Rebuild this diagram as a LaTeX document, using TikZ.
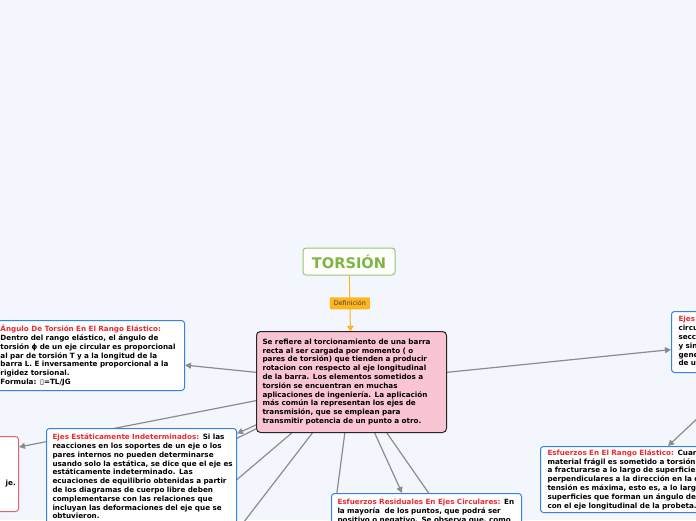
\documentclass[tikz,border=0pt]{standalone}
\usepackage{fontspec}
\setmainfont{DejaVu Sans}
\usetikzlibrary{arrows.meta,calc}
\definecolor{bgc}{RGB}{243,246,253}
\definecolor{bluebd}{RGB}{52,130,225}
\definecolor{redt}{RGB}{236,40,50}
\definecolor{redbd}{RGB}{224,100,110}
\definecolor{greenbd}{RGB}{150,200,105}
\definecolor{greent}{RGB}{125,182,60}
\definecolor{orng}{RGB}{255,182,30}
\definecolor{pinkf}{RGB}{249,197,210}
\definecolor{connc}{RGB}{140,140,140}
\newcommand\myline[1]{\mbox{#1}}
\pgfdeclarelayer{back}
\pgfsetlayers{back,main}
\begin{document}
\begin{tikzpicture}[x=1pt,y=-1pt,
  txt/.style={font=\fontsize{7.2}{8.8}\selectfont\bfseries},
  box/.style={txt,draw=bluebd,line width=1pt,fill=white,rounded corners=3pt,
    anchor=north west,align=left,inner xsep=7pt,inner ysep=0pt},
  conn/.style={draw=connc,line width=1.2pt},
  arr/.style={conn,-{Triangle[length=6pt,width=6pt]}}]
\useasboundingbox (0,0) rectangle (696,520);

\node[draw=greenbd,line width=1pt,fill=white,rounded corners=3pt,minimum width=92pt,
  minimum height=27pt,text=greent,font=\fontsize{14.6}{16}\selectfont\bfseries]
  (torsion) at (349,261.5) {TORSIÓN};

\node[box,draw=black!85,fill=pinkf,rounded corners=4pt,minimum width=190pt,
  minimum height=101pt,text width=178pt,inner xsep=6pt] (central) at (256,331) {%
\myline{Se refiere al torcionamiento de una barra}\\
\myline{recta al ser cargada por momento ( o}\\
\myline{pares de torsión) que tienden a producir}\\
\myline{rotacion con respecto al eje longitudinal}\\
\myline{de la barra. Los elementos sometidos a}\\
\myline{torsión se encuentran en muchas}\\
\myline{aplicaciones de ingeniería. La aplicación}\\
\myline{más común la representan los ejes de}\\
\myline{transmisión, que se emplean para}\\
\myline{transmitir potencia de un punto a otro.}};

\node[box,minimum width=188pt,minimum height=70pt,text width=180pt,inner xsep=4pt]
  (angle) at (-4,320) {%
\myline{\textcolor{redt}{Ángulo De Torsión En El Rango Elástico:}}\\
\myline{Dentro del rango elástico, el ángulo de}\\
\myline{torsión ϕ de un eje circular es proporcional}\\
\myline{al par de torsión T y a la longitud de la}\\
\myline{barra L. E inversamente proporcional a la}\\
\myline{rigidez torsional.}\\
\myline{Formula: ▯=TL/JG}};

\node[box,draw=redbd,minimum width=138pt,minimum height=75pt] (red) at (-120,436) {};
\node[txt,anchor=base east,inner sep=0pt] (redtxt) at (16,485) {je.};

\node[box,minimum width=190pt,text width=178pt,inner xsep=6pt,inner ysep=5.5pt] (ejes) at (46,428) {%
\myline{\textcolor{redt}{Ejes Estáticamente Indeterminados:} Si las}\\
\myline{reacciones en los soportes de un eje o los}\\
\myline{pares internos no pueden determinarse}\\
\myline{usando solo la estática, se dice que el eje es}\\
\myline{estáticamente indeterminado. Las}\\
\myline{ecuaciones de equilibrio obtenidas a partir}\\
\myline{de los diagramas de cuerpo libre deben}\\
\myline{complementarse con las relaciones que}\\
\myline{incluyan las deformaciones del eje que se}\\
\myline{obtuvieron.}};

\node[box,minimum width=190pt,text width=178pt,inner xsep=6pt,inner ysep=6pt] (res) at (331,493) {%
\myline{\textcolor{redt}{Esfuerzos Residuales En Ejes Circulares:} En}\\
\myline{la mayoría\ \ de los puntos, que podrá ser}\\
\myline{positivo o negativo. Se observa que, como}\\
\myline{el esfuerzo residual}};

\node[box,minimum width=220pt,minimum height=66pt,text width=206pt] (rango) at (540,446) {%
\myline{\textcolor{redt}{Esfuerzos En El Rango Elástico:} Cuando un}\\
\myline{material frágil es sometido a torsión, tiende}\\
\myline{a fracturarse a lo largo de superficies}\\
\myline{perpendiculares a la dirección en la que la}\\
\myline{tensión es máxima, esto es, a lo largo de}\\
\myline{superficies que forman un ángulo de 45°}\\
\myline{con el eje longitudinal de la probeta.}};

\node[box,minimum width=149pt,minimum height=61pt,text width=135pt] (rbox) at (671,311) {%
\myline{\textcolor{redt}{Ejes Circulares Huecos:}}\\
\myline{circulares de}\\
\myline{sección constante}\\
\myline{y sin cambios}\\
\myline{generales}\\
\myline{de un eje}};

\coordinate (o1) at (0,555);
\coordinate (o2) at (180,528);
\coordinate (o3) at (230,540);
\coordinate (o4) at (336,500);
\coordinate (o5) at (437,505);

\begin{pgfonlayer}{back}
\fill[bgc] (0,0) rectangle (696,520);
\draw[orng,line width=1pt,-{Triangle[length=5pt,width=7pt]}] (torsion) -- (central)
  node[midway,fill=orng,rounded corners=1pt,inner sep=0pt,minimum width=40pt,
  minimum height=12pt,text=black!75,font=\fontsize{6.4}{7}\selectfont] (def) {Definición};
\draw[arr] (central) -- (angle);
\draw[arr] (central) -- ($(red.north east)+(0,11)$);
\draw[arr] (central) -- (ejes);
\draw[conn] (central) -- (o1);
\draw[conn] (central) -- (o2);
\draw[conn] (central) -- (o3);
\draw[conn] (central) -- (o4);
\draw[arr] (central) -- ($(res.north west)+(71,0)$);
\draw[conn] (central) -- (o5);
\draw[arr] (central) -- (rbox);
\draw[arr] (rbox.south) -- ($(rango.north west)+(128,0)$);
\end{pgfonlayer}
\end{tikzpicture}
\end{document}
